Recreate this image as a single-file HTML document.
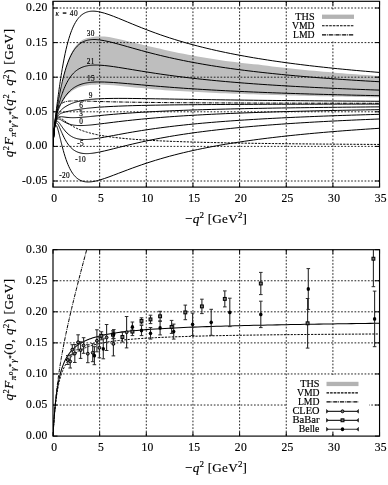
<!DOCTYPE html><html><head><meta charset="utf-8"><style>html,body{margin:0;padding:0;background:#fff}svg{display:block;will-change:transform}text{font-family:"Liberation Serif",serif;fill:#000;stroke:#000;stroke-width:0.16px}</style></head><body>
<svg width="388" height="485" viewBox="0 0 388 485">
<rect width="388" height="485" fill="#fff"/>
<defs><clipPath id="ct"><rect x="53.0" y="1.3" width="326.55" height="185.80"/></clipPath><clipPath id="cb"><rect x="53.0" y="249.7" width="326.55" height="186.40"/></clipPath></defs>
<g clip-path="url(#ct)">
<path d="M53.00,146.40 L53.23,142.02 L53.47,138.26 L53.70,134.99 L53.93,132.11 L54.17,129.53 L54.40,127.19 L54.63,125.03 L54.87,123.03 L55.10,121.16 L55.33,119.38 L55.57,117.67 L55.80,116.04 L56.03,114.46 L56.27,112.92 L56.50,111.42 L56.73,109.95 L56.97,108.51 L57.20,107.10 L57.43,105.71 L57.66,104.34 L57.90,102.99 L58.13,101.66 L58.36,100.34 L58.60,99.05 L58.83,97.77 L59.06,96.50 L59.30,95.26 L59.53,94.03 L59.76,92.81 L60.00,91.62 L60.23,90.44 L60.46,89.28 L60.70,88.13 L60.93,87.00 L61.16,85.89 L61.40,84.80 L61.63,83.72 L61.86,82.66 L62.10,81.62 L62.33,80.60 L63.26,76.67 L64.20,73.02 L65.13,69.63 L66.06,66.50 L67.00,63.61 L67.93,60.95 L68.86,58.51 L69.79,56.27 L70.73,54.23 L71.66,52.35 L72.59,50.65 L73.53,49.09 L74.46,47.68 L75.39,46.40 L76.33,45.24 L77.26,44.19 L78.19,43.24 L79.12,42.39 L80.06,41.63 L80.99,40.95 L81.92,40.34 L82.86,39.81 L83.79,39.34 L84.72,38.92 L85.66,38.56 L86.59,38.26 L87.52,38.00 L88.45,37.78 L89.39,37.60 L90.32,37.46 L91.25,37.24 L92.19,37.05 L93.12,36.89 L94.05,36.76 L94.98,36.65 L95.92,36.56 L96.85,36.50 L97.78,36.46 L98.72,36.44 L99.65,36.43 L104.31,36.62 L108.98,37.08 L113.65,37.97 L118.31,38.98 L122.97,40.06 L127.64,41.17 L132.31,42.30 L136.97,43.44 L141.63,44.56 L146.30,45.66 L150.97,46.74 L155.63,47.79 L160.30,48.81 L164.96,49.89 L169.62,50.93 L174.29,51.94 L178.95,52.91 L183.62,53.84 L188.28,54.74 L192.95,55.62 L197.62,56.45 L202.28,57.26 L206.94,58.04 L211.61,58.80 L216.28,59.52 L220.94,60.23 L225.60,60.90 L230.27,61.56 L234.94,62.11 L239.60,62.64 L244.27,63.15 L248.93,63.65 L253.59,64.13 L258.26,64.59 L262.93,65.21 L267.59,65.80 L272.25,66.38 L276.92,66.94 L281.59,67.48 L286.25,68.01 L290.91,68.52 L295.58,69.02 L300.25,69.50 L304.91,69.97 L309.57,70.42 L314.24,70.86 L318.91,71.29 L323.57,71.71 L328.24,72.12 L332.90,72.52 L337.56,72.90 L342.23,73.28 L346.89,73.65 L351.56,74.01 L356.23,74.36 L360.89,74.70 L365.56,75.03 L370.22,75.35 L374.88,75.67 L379.55,75.98 L379.55,97.29 L374.88,97.21 L370.22,97.13 L365.56,97.05 L360.89,96.97 L356.23,96.89 L351.56,96.80 L346.89,96.71 L342.23,96.62 L337.56,96.53 L332.90,96.44 L328.24,96.34 L323.57,96.24 L318.91,96.13 L314.24,96.03 L309.57,95.92 L304.91,95.81 L300.25,95.70 L295.58,95.58 L290.91,95.46 L286.25,95.33 L281.59,95.20 L276.92,95.07 L272.25,94.94 L267.59,94.80 L262.93,94.65 L258.26,94.50 L253.59,94.35 L248.93,94.19 L244.27,94.03 L239.60,93.86 L234.94,93.69 L230.27,93.51 L225.60,93.32 L220.94,93.13 L216.28,92.93 L211.61,92.73 L206.94,92.52 L202.28,92.30 L197.62,92.07 L192.95,91.84 L188.28,91.60 L183.62,91.35 L178.95,91.09 L174.29,90.83 L169.62,90.55 L164.96,90.27 L160.30,89.86 L155.63,89.44 L150.97,89.00 L146.30,88.55 L141.63,88.09 L136.97,87.63 L132.31,87.16 L127.64,86.68 L122.97,86.22 L118.31,85.76 L113.65,85.34 L108.98,84.95 L104.31,84.73 L99.65,84.62 L98.72,84.61 L97.78,84.62 L96.85,84.62 L95.92,84.64 L94.98,84.66 L94.05,84.70 L93.12,84.74 L92.19,84.80 L91.25,84.86 L90.32,84.94 L89.39,85.03 L88.45,85.13 L87.52,85.25 L86.59,85.39 L85.66,85.54 L84.72,85.72 L83.79,85.91 L82.86,86.13 L81.92,86.37 L80.99,86.63 L80.06,86.93 L79.12,87.25 L78.19,87.61 L77.26,88.00 L76.33,88.43 L75.39,88.90 L74.46,89.41 L73.53,89.97 L72.59,90.59 L71.66,91.25 L70.73,91.98 L69.79,92.77 L68.86,93.63 L67.93,94.56 L67.00,95.58 L66.06,96.67 L65.13,97.86 L64.20,99.15 L63.26,100.55 L62.33,102.06 L62.10,102.46 L61.86,102.87 L61.63,103.28 L61.40,103.71 L61.16,104.14 L60.93,104.58 L60.70,105.04 L60.46,105.50 L60.23,105.98 L60.00,106.46 L59.76,106.96 L59.53,107.48 L59.30,108.00 L59.06,108.54 L58.83,109.10 L58.60,109.68 L58.36,110.27 L58.13,110.89 L57.90,111.53 L57.66,112.20 L57.43,112.89 L57.20,113.62 L56.97,114.39 L56.73,115.20 L56.50,116.06 L56.27,116.97 L56.03,117.95 L55.80,119.00 L55.57,120.14 L55.33,121.38 L55.10,122.75 L54.87,124.25 L54.63,125.93 L54.40,127.80 L54.17,129.92 L53.93,132.34 L53.70,135.10 L53.47,138.30 L53.23,142.02 L53.00,146.40 Z" fill="#bebebe"/>
<line x1="99.65" y1="1.3" x2="99.65" y2="187.1" stroke="#1a1a1a" stroke-width="0.95" stroke-dasharray="1.7 1.65"/>
<line x1="146.30" y1="1.3" x2="146.30" y2="187.1" stroke="#1a1a1a" stroke-width="0.95" stroke-dasharray="1.7 1.65"/>
<line x1="192.95" y1="1.3" x2="192.95" y2="187.1" stroke="#1a1a1a" stroke-width="0.95" stroke-dasharray="1.7 1.65"/>
<line x1="239.60" y1="1.3" x2="239.60" y2="187.1" stroke="#1a1a1a" stroke-width="0.95" stroke-dasharray="1.7 1.65"/>
<line x1="286.25" y1="1.3" x2="286.25" y2="187.1" stroke="#1a1a1a" stroke-width="0.95" stroke-dasharray="1.7 1.65"/>
<line x1="332.90" y1="1.3" x2="332.90" y2="187.1" stroke="#1a1a1a" stroke-width="0.95" stroke-dasharray="1.7 1.65"/>
<line x1="53.0" y1="181.00" x2="379.55" y2="181.00" stroke="#1a1a1a" stroke-width="0.95" stroke-dasharray="1.7 1.65"/>
<line x1="53.0" y1="146.40" x2="379.55" y2="146.40" stroke="#1a1a1a" stroke-width="0.95" stroke-dasharray="1.7 1.65"/>
<line x1="53.0" y1="111.80" x2="379.55" y2="111.80" stroke="#1a1a1a" stroke-width="0.95" stroke-dasharray="1.7 1.65"/>
<line x1="53.0" y1="77.20" x2="379.55" y2="77.20" stroke="#1a1a1a" stroke-width="0.95" stroke-dasharray="1.7 1.65"/>
<line x1="53.0" y1="42.60" x2="379.55" y2="42.60" stroke="#1a1a1a" stroke-width="0.95" stroke-dasharray="1.7 1.65"/>
<line x1="53.0" y1="8.00" x2="379.55" y2="8.00" stroke="#1a1a1a" stroke-width="0.95" stroke-dasharray="1.7 1.65"/>
<path d="M53.00,146.40 L53.23,142.02 L53.47,138.24 L53.70,134.93 L53.93,131.98 L54.17,129.30 L54.40,126.83 L54.63,124.52 L54.87,122.33 L55.10,120.24 L55.33,118.22 L55.57,116.26 L55.80,114.34 L56.03,112.45 L56.27,110.59 L56.50,108.76 L56.73,106.94 L56.97,105.14 L57.20,103.36 L57.43,101.59 L57.66,99.83 L57.90,98.09 L58.13,96.37 L58.36,94.65 L58.60,92.96 L58.83,91.28 L59.06,89.61 L59.30,87.96 L59.53,86.33 L59.76,84.72 L60.00,83.13 L60.23,81.56 L60.46,80.01 L60.70,78.47 L60.93,76.96 L61.16,75.47 L61.40,74.01 L61.63,72.56 L61.86,71.14 L62.10,69.74 L62.33,68.36 L63.26,63.07 L64.20,58.15 L65.13,53.59 L66.06,49.38 L67.00,45.49 L67.93,41.92 L68.86,38.65 L69.79,35.66 L70.73,32.92 L71.66,30.43 L72.59,28.16 L73.53,26.10 L74.46,24.24 L75.39,22.55 L76.33,21.03 L77.26,19.66 L78.19,18.44 L79.12,17.34 L80.06,16.36 L80.99,15.49 L81.92,14.73 L82.86,14.05 L83.79,13.47 L84.72,12.97 L85.66,12.54 L86.59,12.17 L87.52,11.87 L88.45,11.63 L89.39,11.44 L90.32,11.30 L91.25,11.21 L92.19,11.16 L93.12,11.15 L94.05,11.17 L94.98,11.23 L95.92,11.31 L96.85,11.43 L97.78,11.56 L98.72,11.73 L99.65,11.91 L104.31,13.11 L108.98,14.63 L113.65,16.36 L118.31,18.22 L122.97,20.13 L127.64,22.07 L132.31,24.01 L136.97,25.91 L141.63,27.78 L146.30,29.61 L150.97,31.38 L155.63,33.09 L160.30,34.75 L164.96,36.35 L169.62,37.89 L174.29,39.37 L178.95,40.80 L183.62,42.18 L188.28,43.51 L192.95,44.78 L197.62,46.01 L202.28,47.20 L206.94,48.34 L211.61,49.44 L216.28,50.50 L220.94,51.52 L225.60,52.50 L230.27,53.46 L234.94,54.38 L239.60,55.26 L244.27,56.12 L248.93,56.95 L253.59,57.75 L258.26,58.53 L262.93,59.28 L267.59,60.01 L272.25,60.72 L276.92,61.40 L281.59,62.06 L286.25,62.71 L290.91,63.33 L295.58,63.94 L300.25,64.53 L304.91,65.10 L309.57,65.66 L314.24,66.20 L318.91,66.72 L323.57,67.23 L328.24,67.73 L332.90,68.22 L337.56,68.69 L342.23,69.15 L346.89,69.60 L351.56,70.04 L356.23,70.46 L360.89,70.88 L365.56,71.28 L370.22,71.68 L374.88,72.07 L379.55,72.44" fill="none" stroke="#000" stroke-width="1.0"/>
<path d="M53.00,146.40 L53.23,142.02 L53.47,138.26 L53.70,135.00 L53.93,132.12 L54.17,129.54 L54.40,127.21 L54.63,125.07 L54.87,123.08 L55.10,121.21 L55.33,119.45 L55.57,117.77 L55.80,116.15 L56.03,114.59 L56.27,113.07 L56.50,111.60 L56.73,110.15 L56.97,108.74 L57.20,107.35 L57.43,105.98 L57.66,104.64 L57.90,103.32 L58.13,102.01 L58.36,100.72 L58.60,99.46 L58.83,98.20 L59.06,96.97 L59.30,95.75 L59.53,94.55 L59.76,93.36 L60.00,92.20 L60.23,91.04 L60.46,89.91 L60.70,88.79 L60.93,87.69 L61.16,86.61 L61.40,85.54 L61.63,84.49 L61.86,83.46 L62.10,82.45 L62.33,81.45 L63.26,77.62 L64.20,74.07 L65.13,70.77 L66.06,67.73 L67.00,64.92 L67.93,62.34 L68.86,59.97 L69.79,57.80 L70.73,55.82 L71.66,54.00 L72.59,52.35 L73.53,50.85 L74.46,49.49 L75.39,48.25 L76.33,47.13 L77.26,46.12 L78.19,45.21 L79.12,44.39 L80.06,43.66 L80.99,43.01 L81.92,42.44 L82.86,41.93 L83.79,41.48 L84.72,41.09 L85.66,40.75 L86.59,40.46 L87.52,40.22 L88.45,40.02 L89.39,39.86 L90.32,39.73 L91.25,39.64 L92.19,39.58 L93.12,39.55 L94.05,39.54 L94.98,39.55 L95.92,39.59 L96.85,39.65 L97.78,39.73 L98.72,39.82 L99.65,39.93 L104.31,40.68 L108.98,41.68 L113.65,42.83 L118.31,44.08 L122.97,45.38 L127.64,46.70 L132.31,48.03 L136.97,49.34 L141.63,50.62 L146.30,51.88 L150.97,53.10 L155.63,54.29 L160.30,55.43 L164.96,56.54 L169.62,57.61 L174.29,58.64 L178.95,59.64 L183.62,60.59 L188.28,61.52 L192.95,62.41 L197.62,63.26 L202.28,64.09 L206.94,64.88 L211.61,65.65 L216.28,66.39 L220.94,67.10 L225.60,67.79 L230.27,68.46 L234.94,69.10 L239.60,69.72 L244.27,70.32 L248.93,70.90 L253.59,71.46 L258.26,72.00 L262.93,72.53 L267.59,73.04 L272.25,73.53 L276.92,74.01 L281.59,74.48 L286.25,74.93 L290.91,75.36 L295.58,75.79 L300.25,76.20 L304.91,76.60 L309.57,76.99 L314.24,77.37 L318.91,77.74 L323.57,78.10 L328.24,78.45 L332.90,78.79 L337.56,79.12 L342.23,79.44 L346.89,79.75 L351.56,80.06 L356.23,80.36 L360.89,80.65 L365.56,80.94 L370.22,81.21 L374.88,81.48 L379.55,81.75" fill="none" stroke="#000" stroke-width="1.0"/>
<path d="M53.00,146.40 L53.23,142.02 L53.47,138.28 L53.70,135.06 L53.93,132.24 L54.17,129.76 L54.40,127.55 L54.63,125.56 L54.87,123.75 L55.10,122.09 L55.33,120.56 L55.57,119.13 L55.80,117.78 L56.03,116.51 L56.27,115.30 L56.50,114.15 L56.73,113.04 L56.97,111.97 L57.20,110.94 L57.43,109.94 L57.66,108.97 L57.90,108.02 L58.13,107.09 L58.36,106.19 L58.60,105.30 L58.83,104.44 L59.06,103.59 L59.30,102.76 L59.53,101.94 L59.76,101.14 L60.00,100.36 L60.23,99.58 L60.46,98.83 L60.70,98.08 L60.93,97.35 L61.16,96.63 L61.40,95.93 L61.63,95.23 L61.86,94.55 L62.10,93.88 L62.33,93.23 L63.26,90.72 L64.20,88.39 L65.13,86.24 L66.06,84.25 L67.00,82.41 L67.93,80.72 L68.86,79.16 L69.79,77.73 L70.73,76.42 L71.66,75.22 L72.59,74.12 L73.53,73.12 L74.46,72.21 L75.39,71.37 L76.33,70.62 L77.26,69.93 L78.19,69.31 L79.12,68.74 L80.06,68.24 L80.99,67.78 L81.92,67.37 L82.86,67.01 L83.79,66.68 L84.72,66.40 L85.66,66.15 L86.59,65.93 L87.52,65.74 L88.45,65.57 L89.39,65.44 L90.32,65.32 L91.25,65.23 L92.19,65.16 L93.12,65.10 L94.05,65.07 L94.98,65.05 L95.92,65.04 L96.85,65.05 L97.78,65.07 L98.72,65.10 L99.65,65.15 L104.31,65.50 L108.98,66.02 L113.65,66.65 L118.31,67.36 L122.97,68.10 L127.64,68.87 L132.31,69.64 L136.97,70.41 L141.63,71.18 L146.30,71.92 L150.97,72.65 L155.63,73.36 L160.30,74.05 L164.96,74.72 L169.62,75.36 L174.29,75.99 L178.95,76.59 L183.62,77.17 L188.28,77.73 L192.95,78.27 L197.62,78.79 L202.28,79.29 L206.94,79.78 L211.61,80.24 L216.28,80.69 L220.94,81.13 L225.60,81.55 L230.27,81.96 L234.94,82.35 L239.60,82.73 L244.27,83.10 L248.93,83.45 L253.59,83.80 L258.26,84.13 L262.93,84.45 L267.59,84.76 L272.25,85.07 L276.92,85.36 L281.59,85.65 L286.25,85.92 L290.91,86.19 L295.58,86.45 L300.25,86.71 L304.91,86.95 L309.57,87.19 L314.24,87.43 L318.91,87.65 L323.57,87.87 L328.24,88.09 L332.90,88.30 L337.56,88.50 L342.23,88.70 L346.89,88.89 L351.56,89.08 L356.23,89.27 L360.89,89.45 L365.56,89.62 L370.22,89.79 L374.88,89.96 L379.55,90.12" fill="none" stroke="#000" stroke-width="1.0"/>
<path d="M53.00,146.40 L53.23,142.02 L53.47,138.30 L53.70,135.10 L53.93,132.33 L54.17,129.91 L54.40,127.78 L54.63,125.89 L54.87,124.20 L55.10,122.68 L55.33,121.30 L55.57,120.03 L55.80,118.87 L56.03,117.79 L56.27,116.79 L56.50,115.85 L56.73,114.97 L56.97,114.13 L57.20,113.33 L57.43,112.58 L57.66,111.85 L57.90,111.15 L58.13,110.48 L58.36,109.83 L58.60,109.20 L58.83,108.59 L59.06,108.00 L59.30,107.43 L59.53,106.87 L59.76,106.33 L60.00,105.79 L60.23,105.28 L60.46,104.77 L60.70,104.27 L60.93,103.79 L61.16,103.31 L61.40,102.85 L61.63,102.39 L61.86,101.95 L62.10,101.51 L62.33,101.08 L63.26,99.45 L64.20,97.94 L65.13,96.55 L66.06,95.26 L67.00,94.07 L67.93,92.97 L68.86,91.96 L69.79,91.02 L70.73,90.16 L71.66,89.37 L72.59,88.64 L73.53,87.97 L74.46,87.35 L75.39,86.79 L76.33,86.28 L77.26,85.80 L78.19,85.37 L79.12,84.98 L80.06,84.62 L80.99,84.29 L81.92,84.00 L82.86,83.73 L83.79,83.49 L84.72,83.27 L85.66,83.08 L86.59,82.90 L87.52,82.74 L88.45,82.61 L89.39,82.49 L90.32,82.38 L91.25,82.29 L92.19,82.21 L93.12,82.14 L94.05,82.09 L94.98,82.04 L95.92,82.01 L96.85,81.98 L97.78,81.97 L98.72,81.96 L99.65,81.96 L104.31,82.04 L108.98,82.25 L113.65,82.53 L118.31,82.87 L122.97,83.25 L127.64,83.65 L132.31,84.05 L136.97,84.47 L141.63,84.88 L146.30,85.29 L150.97,85.69 L155.63,86.08 L160.30,86.46 L164.96,86.84 L169.62,87.20 L174.29,87.55 L178.95,87.89 L183.62,88.22 L188.28,88.54 L192.95,88.84 L197.62,89.14 L202.28,89.43 L206.94,89.70 L211.61,89.97 L216.28,90.23 L220.94,90.48 L225.60,90.72 L230.27,90.96 L234.94,91.18 L239.60,91.40 L244.27,91.62 L248.93,91.82 L253.59,92.02 L258.26,92.21 L262.93,92.40 L267.59,92.58 L272.25,92.76 L276.92,92.93 L281.59,93.09 L286.25,93.25 L290.91,93.41 L295.58,93.56 L300.25,93.71 L304.91,93.85 L309.57,93.99 L314.24,94.13 L318.91,94.26 L323.57,94.39 L328.24,94.52 L332.90,94.64 L337.56,94.76 L342.23,94.87 L346.89,94.99 L351.56,95.10 L356.23,95.21 L360.89,95.31 L365.56,95.41 L370.22,95.51 L374.88,95.61 L379.55,95.71" fill="none" stroke="#000" stroke-width="1.0"/>
<path d="M53.00,146.40 L53.23,142.03 L53.47,138.31 L53.70,135.14 L53.93,132.41 L54.17,130.05 L54.40,128.00 L54.63,126.22 L54.87,124.65 L55.10,123.26 L55.33,122.03 L55.57,120.94 L55.80,119.96 L56.03,119.08 L56.27,118.28 L56.50,117.55 L56.73,116.89 L56.97,116.29 L57.20,115.73 L57.43,115.21 L57.66,114.73 L57.90,114.28 L58.13,113.87 L58.36,113.47 L58.60,113.10 L58.83,112.75 L59.06,112.42 L59.30,112.10 L59.53,111.80 L59.76,111.51 L60.00,111.23 L60.23,110.97 L60.46,110.71 L60.70,110.46 L60.93,110.23 L61.16,109.99 L61.40,109.77 L61.63,109.55 L61.86,109.34 L62.10,109.14 L62.33,108.94 L63.26,108.18 L64.20,107.49 L65.13,106.86 L66.06,106.27 L67.00,105.73 L67.93,105.22 L68.86,104.75 L69.79,104.31 L70.73,103.90 L71.66,103.51 L72.59,103.15 L73.53,102.82 L74.46,102.50 L75.39,102.21 L76.33,101.93 L77.26,101.68 L78.19,101.44 L79.12,101.21 L80.06,101.00 L80.99,100.81 L81.92,100.62 L82.86,100.45 L83.79,100.29 L84.72,100.14 L85.66,100.00 L86.59,99.88 L87.52,99.75 L88.45,99.64 L89.39,99.54 L90.32,99.44 L91.25,99.35 L92.19,99.26 L93.12,99.18 L94.05,99.11 L94.98,99.04 L95.92,98.98 L96.85,98.92 L97.78,98.87 L98.72,98.82 L99.65,98.77 L104.31,98.59 L108.98,98.48 L113.65,98.42 L118.31,98.39 L122.97,98.40 L127.64,98.42 L132.31,98.47 L136.97,98.52 L141.63,98.58 L146.30,98.65 L150.97,98.72 L155.63,98.80 L160.30,98.88 L164.96,98.95 L169.62,99.03 L174.29,99.11 L178.95,99.19 L183.62,99.27 L188.28,99.34 L192.95,99.42 L197.62,99.49 L202.28,99.56 L206.94,99.63 L211.61,99.70 L216.28,99.77 L220.94,99.83 L225.60,99.90 L230.27,99.96 L234.94,100.02 L239.60,100.08 L244.27,100.13 L248.93,100.19 L253.59,100.24 L258.26,100.30 L262.93,100.35 L267.59,100.40 L272.25,100.45 L276.92,100.49 L281.59,100.54 L286.25,100.59 L290.91,100.63 L295.58,100.67 L300.25,100.71 L304.91,100.76 L309.57,100.79 L314.24,100.83 L318.91,100.87 L323.57,100.91 L328.24,100.94 L332.90,100.98 L337.56,101.01 L342.23,101.05 L346.89,101.08 L351.56,101.11 L356.23,101.14 L360.89,101.17 L365.56,101.20 L370.22,101.23 L374.88,101.26 L379.55,101.29" fill="none" stroke="#000" stroke-width="1.0"/>
<path d="M53.00,146.40 L53.23,142.03 L53.47,138.32 L53.70,135.16 L53.93,132.45 L54.17,130.12 L54.40,128.12 L54.63,126.38 L54.87,124.87 L55.10,123.55 L55.33,122.40 L55.57,121.39 L55.80,120.50 L56.03,119.72 L56.27,119.02 L56.50,118.41 L56.73,117.86 L56.97,117.36 L57.20,116.93 L57.43,116.53 L57.66,116.17 L57.90,115.85 L58.13,115.56 L58.36,115.29 L58.60,115.05 L58.83,114.83 L59.06,114.63 L59.30,114.44 L59.53,114.26 L59.76,114.10 L60.00,113.95 L60.23,113.81 L60.46,113.68 L60.70,113.56 L60.93,113.44 L61.16,113.34 L61.40,113.23 L61.63,113.13 L61.86,113.04 L62.10,112.95 L62.33,112.86 L63.26,112.55 L64.20,112.27 L65.13,112.02 L66.06,111.78 L67.00,111.56 L67.93,111.35 L68.86,111.15 L69.79,110.95 L70.73,110.77 L71.66,110.59 L72.59,110.41 L73.53,110.24 L74.46,110.08 L75.39,109.92 L76.33,109.76 L77.26,109.61 L78.19,109.47 L79.12,109.33 L80.06,109.19 L80.99,109.06 L81.92,108.94 L82.86,108.81 L83.79,108.70 L84.72,108.58 L85.66,108.47 L86.59,108.36 L87.52,108.26 L88.45,108.16 L89.39,108.06 L90.32,107.97 L91.25,107.88 L92.19,107.79 L93.12,107.70 L94.05,107.62 L94.98,107.54 L95.92,107.46 L96.85,107.39 L97.78,107.31 L98.72,107.24 L99.65,107.17 L104.31,106.86 L108.98,106.59 L113.65,106.36 L118.31,106.15 L122.97,105.97 L127.64,105.81 L132.31,105.67 L136.97,105.54 L141.63,105.43 L146.30,105.33 L150.97,105.24 L155.63,105.16 L160.30,105.08 L164.96,105.01 L169.62,104.95 L174.29,104.89 L178.95,104.84 L183.62,104.79 L188.28,104.75 L192.95,104.70 L197.62,104.67 L202.28,104.63 L206.94,104.60 L211.61,104.56 L216.28,104.54 L220.94,104.51 L225.60,104.48 L230.27,104.46 L234.94,104.43 L239.60,104.41 L244.27,104.39 L248.93,104.37 L253.59,104.36 L258.26,104.34 L262.93,104.32 L267.59,104.31 L272.25,104.29 L276.92,104.28 L281.59,104.26 L286.25,104.25 L290.91,104.24 L295.58,104.23 L300.25,104.22 L304.91,104.21 L309.57,104.20 L314.24,104.19 L318.91,104.18 L323.57,104.17 L328.24,104.16 L332.90,104.15 L337.56,104.14 L342.23,104.13 L346.89,104.13 L351.56,104.12 L356.23,104.11 L360.89,104.11 L365.56,104.10 L370.22,104.09 L374.88,104.09 L379.55,104.08" fill="none" stroke="#000" stroke-width="1.0"/>
<path d="M53.00,146.40 L53.23,142.03 L53.47,138.33 L53.70,135.18 L53.93,132.49 L54.17,130.20 L54.40,128.23 L54.63,126.54 L54.87,125.09 L55.10,123.85 L55.33,122.77 L55.57,121.85 L55.80,121.05 L56.03,120.36 L56.27,119.77 L56.50,119.26 L56.73,118.82 L56.97,118.44 L57.20,118.12 L57.43,117.85 L57.66,117.62 L57.90,117.42 L58.13,117.25 L58.36,117.12 L58.60,117.00 L58.83,116.91 L59.06,116.83 L59.30,116.77 L59.53,116.73 L59.76,116.70 L60.00,116.67 L60.23,116.66 L60.46,116.66 L60.70,116.66 L60.93,116.66 L61.16,116.68 L61.40,116.69 L61.63,116.71 L61.86,116.74 L62.10,116.76 L62.33,116.79 L63.26,116.91 L64.20,117.04 L65.13,117.17 L66.06,117.29 L67.00,117.39 L67.93,117.48 L68.86,117.54 L69.79,117.60 L70.73,117.63 L71.66,117.66 L72.59,117.67 L73.53,117.66 L74.46,117.65 L75.39,117.63 L76.33,117.59 L77.26,117.55 L78.19,117.50 L79.12,117.45 L80.06,117.39 L80.99,117.32 L81.92,117.25 L82.86,117.17 L83.79,117.10 L84.72,117.02 L85.66,116.93 L86.59,116.85 L87.52,116.76 L88.45,116.68 L89.39,116.59 L90.32,116.50 L91.25,116.40 L92.19,116.31 L93.12,116.22 L94.05,116.13 L94.98,116.04 L95.92,115.95 L96.85,115.85 L97.78,115.76 L98.72,115.67 L99.65,115.58 L104.31,115.13 L108.98,114.70 L113.65,114.30 L118.31,113.91 L122.97,113.54 L127.64,113.20 L132.31,112.88 L136.97,112.57 L141.63,112.28 L146.30,112.01 L150.97,111.76 L155.63,111.52 L160.30,111.29 L164.96,111.07 L169.62,110.87 L174.29,110.67 L178.95,110.49 L183.62,110.32 L188.28,110.15 L192.95,109.99 L197.62,109.84 L202.28,109.70 L206.94,109.56 L211.61,109.43 L216.28,109.30 L220.94,109.18 L225.60,109.07 L230.27,108.96 L234.94,108.85 L239.60,108.75 L244.27,108.65 L248.93,108.56 L253.59,108.47 L258.26,108.38 L262.93,108.30 L267.59,108.21 L272.25,108.14 L276.92,108.06 L281.59,107.99 L286.25,107.92 L290.91,107.85 L295.58,107.78 L300.25,107.72 L304.91,107.66 L309.57,107.60 L314.24,107.54 L318.91,107.48 L323.57,107.43 L328.24,107.37 L332.90,107.32 L337.56,107.27 L342.23,107.22 L346.89,107.17 L351.56,107.13 L356.23,107.08 L360.89,107.04 L365.56,107.00 L370.22,106.95 L374.88,106.91 L379.55,106.87" fill="none" stroke="#000" stroke-width="1.0"/>
<path d="M53.00,146.40 L53.23,142.03 L53.47,138.33 L53.70,135.20 L53.93,132.53 L54.17,130.27 L54.40,128.35 L54.63,126.71 L54.87,125.32 L55.10,124.14 L55.33,123.14 L55.57,122.30 L55.80,121.59 L56.03,121.00 L56.27,120.51 L56.50,120.11 L56.73,119.78 L56.97,119.52 L57.20,119.32 L57.43,119.17 L57.66,119.06 L57.90,118.99 L58.13,118.95 L58.36,118.94 L58.60,118.95 L58.83,118.99 L59.06,119.04 L59.30,119.11 L59.53,119.19 L59.76,119.29 L60.00,119.39 L60.23,119.51 L60.46,119.63 L60.70,119.75 L60.93,119.88 L61.16,120.02 L61.40,120.15 L61.63,120.29 L61.86,120.43 L62.10,120.57 L62.33,120.72 L63.26,121.28 L64.20,121.82 L65.13,122.33 L66.06,122.79 L67.00,123.22 L67.93,123.60 L68.86,123.94 L69.79,124.24 L70.73,124.50 L71.66,124.73 L72.59,124.92 L73.53,125.09 L74.46,125.22 L75.39,125.33 L76.33,125.42 L77.26,125.49 L78.19,125.53 L79.12,125.56 L80.06,125.58 L80.99,125.58 L81.92,125.56 L82.86,125.54 L83.79,125.50 L84.72,125.45 L85.66,125.40 L86.59,125.34 L87.52,125.27 L88.45,125.19 L89.39,125.11 L90.32,125.02 L91.25,124.93 L92.19,124.84 L93.12,124.74 L94.05,124.64 L94.98,124.54 L95.92,124.43 L96.85,124.32 L97.78,124.21 L98.72,124.10 L99.65,123.98 L104.31,123.41 L108.98,122.82 L113.65,122.24 L118.31,121.67 L122.97,121.12 L127.64,120.59 L132.31,120.08 L136.97,119.60 L141.63,119.14 L146.30,118.69 L150.97,118.27 L155.63,117.87 L160.30,117.49 L164.96,117.13 L169.62,116.79 L174.29,116.46 L178.95,116.14 L183.62,115.84 L188.28,115.55 L192.95,115.28 L197.62,115.02 L202.28,114.77 L206.94,114.52 L211.61,114.29 L216.28,114.07 L220.94,113.86 L225.60,113.65 L230.27,113.46 L234.94,113.27 L239.60,113.09 L244.27,112.91 L248.93,112.74 L253.59,112.58 L258.26,112.42 L262.93,112.27 L267.59,112.12 L272.25,111.98 L276.92,111.84 L281.59,111.71 L286.25,111.58 L290.91,111.46 L295.58,111.34 L300.25,111.22 L304.91,111.11 L309.57,111.00 L314.24,110.89 L318.91,110.79 L323.57,110.68 L328.24,110.59 L332.90,110.49 L337.56,110.40 L342.23,110.31 L346.89,110.22 L351.56,110.14 L356.23,110.05 L360.89,109.97 L365.56,109.89 L370.22,109.81 L374.88,109.74 L379.55,109.67" fill="none" stroke="#000" stroke-width="1.0"/>
<path d="M53.00,146.40 L53.23,142.03 L53.47,138.34 L53.70,135.23 L53.93,132.60 L54.17,130.39 L54.40,128.53 L54.63,126.98 L54.87,125.69 L55.10,124.63 L55.33,123.76 L55.57,123.05 L55.80,122.50 L56.03,122.07 L56.27,121.75 L56.50,121.53 L56.73,121.39 L56.97,121.32 L57.20,121.31 L57.43,121.36 L57.66,121.46 L57.90,121.60 L58.13,121.77 L58.36,121.97 L58.60,122.20 L58.83,122.45 L59.06,122.72 L59.30,123.00 L59.53,123.30 L59.76,123.61 L60.00,123.93 L60.23,124.25 L60.46,124.58 L60.70,124.91 L60.93,125.25 L61.16,125.59 L61.40,125.92 L61.63,126.26 L61.86,126.60 L62.10,126.93 L62.33,127.26 L63.26,128.55 L64.20,129.78 L65.13,130.92 L66.06,131.97 L67.00,132.93 L67.93,133.81 L68.86,134.60 L69.79,135.31 L70.73,135.95 L71.66,136.52 L72.59,137.02 L73.53,137.46 L74.46,137.85 L75.39,138.18 L76.33,138.47 L77.26,138.72 L78.19,138.92 L79.12,139.09 L80.06,139.23 L80.99,139.34 L81.92,139.42 L82.86,139.47 L83.79,139.50 L84.72,139.51 L85.66,139.51 L86.59,139.48 L87.52,139.44 L88.45,139.39 L89.39,139.32 L90.32,139.24 L91.25,139.15 L92.19,139.05 L93.12,138.94 L94.05,138.82 L94.98,138.70 L95.92,138.57 L96.85,138.43 L97.78,138.29 L98.72,138.14 L99.65,137.99 L104.31,137.19 L108.98,136.34 L113.65,135.47 L118.31,134.60 L122.97,133.74 L127.64,132.90 L132.31,132.09 L136.97,131.31 L141.63,130.55 L146.30,129.83 L150.97,129.14 L155.63,128.47 L160.30,127.84 L164.96,127.23 L169.62,126.65 L174.29,126.09 L178.95,125.56 L183.62,125.05 L188.28,124.56 L192.95,124.09 L197.62,123.64 L202.28,123.21 L206.94,122.80 L211.61,122.40 L216.28,122.02 L220.94,121.65 L225.60,121.30 L230.27,120.96 L234.94,120.63 L239.60,120.31 L244.27,120.01 L248.93,119.72 L253.59,119.43 L258.26,119.16 L262.93,118.89 L267.59,118.64 L272.25,118.39 L276.92,118.15 L281.59,117.92 L286.25,117.69 L290.91,117.47 L295.58,117.26 L300.25,117.06 L304.91,116.86 L309.57,116.66 L314.24,116.48 L318.91,116.29 L323.57,116.12 L328.24,115.94 L332.90,115.78 L337.56,115.61 L342.23,115.45 L346.89,115.30 L351.56,115.15 L356.23,115.00 L360.89,114.86 L365.56,114.72 L370.22,114.58 L374.88,114.45 L379.55,114.32" fill="none" stroke="#000" stroke-width="1.0"/>
<path d="M53.00,146.40 L53.23,142.03 L53.47,138.36 L53.70,135.26 L53.93,132.67 L54.17,130.51 L54.40,128.72 L54.63,127.26 L54.87,126.06 L55.10,125.11 L55.33,124.37 L55.57,123.81 L55.80,123.40 L56.03,123.14 L56.27,122.99 L56.50,122.95 L56.73,122.99 L56.97,123.12 L57.20,123.31 L57.43,123.56 L57.66,123.86 L57.90,124.21 L58.13,124.59 L58.36,125.01 L58.60,125.45 L58.83,125.91 L59.06,126.40 L59.30,126.90 L59.53,127.41 L59.76,127.93 L60.00,128.46 L60.23,128.99 L60.46,129.53 L60.70,130.07 L60.93,130.61 L61.16,131.15 L61.40,131.69 L61.63,132.23 L61.86,132.76 L62.10,133.28 L62.33,133.81 L63.26,135.83 L64.20,137.74 L65.13,139.51 L66.06,141.15 L67.00,142.65 L67.93,144.02 L68.86,145.26 L69.79,146.39 L70.73,147.40 L71.66,148.31 L72.59,149.11 L73.53,149.83 L74.46,150.47 L75.39,151.03 L76.33,151.52 L77.26,151.94 L78.19,152.31 L79.12,152.62 L80.06,152.88 L80.99,153.10 L81.92,153.27 L82.86,153.41 L83.79,153.51 L84.72,153.58 L85.66,153.62 L86.59,153.63 L87.52,153.62 L88.45,153.58 L89.39,153.53 L90.32,153.45 L91.25,153.36 L92.19,153.26 L93.12,153.14 L94.05,153.01 L94.98,152.86 L95.92,152.71 L96.85,152.54 L97.78,152.37 L98.72,152.19 L99.65,152.00 L104.31,150.98 L108.98,149.86 L113.65,148.70 L118.31,147.53 L122.97,146.36 L127.64,145.22 L132.31,144.10 L136.97,143.02 L141.63,141.97 L146.30,140.97 L150.97,140.00 L155.63,139.07 L160.30,138.18 L164.96,137.33 L169.62,136.51 L174.29,135.73 L178.95,134.98 L183.62,134.26 L188.28,133.57 L192.95,132.90 L197.62,132.27 L202.28,131.66 L206.94,131.07 L211.61,130.51 L216.28,129.97 L220.94,129.44 L225.60,128.94 L230.27,128.46 L234.94,127.99 L239.60,127.54 L244.27,127.11 L248.93,126.69 L253.59,126.29 L258.26,125.89 L262.93,125.52 L267.59,125.15 L272.25,124.80 L276.92,124.45 L281.59,124.12 L286.25,123.80 L290.91,123.49 L295.58,123.19 L300.25,122.89 L304.91,122.61 L309.57,122.33 L314.24,122.06 L318.91,121.80 L323.57,121.55 L328.24,121.30 L332.90,121.06 L337.56,120.83 L342.23,120.60 L346.89,120.38 L351.56,120.16 L356.23,119.95 L360.89,119.74 L365.56,119.54 L370.22,119.35 L374.88,119.16 L379.55,118.97" fill="none" stroke="#000" stroke-width="1.0"/>
<path d="M53.00,146.40 L53.23,142.04 L53.47,138.38 L53.70,135.33 L53.93,132.81 L54.17,130.76 L54.40,129.10 L54.63,127.80 L54.87,126.81 L55.10,126.09 L55.33,125.60 L55.57,125.32 L55.80,125.22 L56.03,125.27 L56.27,125.47 L56.50,125.78 L56.73,126.20 L56.97,126.71 L57.20,127.30 L57.43,127.95 L57.66,128.67 L57.90,129.43 L58.13,130.24 L58.36,131.08 L58.60,131.95 L58.83,132.84 L59.06,133.75 L59.30,134.68 L59.53,135.62 L59.76,136.57 L60.00,137.53 L60.23,138.48 L60.46,139.44 L60.70,140.39 L60.93,141.34 L61.16,142.29 L61.40,143.23 L61.63,144.16 L61.86,145.08 L62.10,145.99 L62.33,146.90 L63.26,150.38 L64.20,153.65 L65.13,156.69 L66.06,159.50 L67.00,162.08 L67.93,164.44 L68.86,166.59 L69.79,168.53 L70.73,170.29 L71.66,171.88 L72.59,173.30 L73.53,174.58 L74.46,175.72 L75.39,176.72 L76.33,177.62 L77.26,178.40 L78.19,179.08 L79.12,179.68 L80.06,180.19 L80.99,180.62 L81.92,180.98 L82.86,181.28 L83.79,181.51 L84.72,181.70 L85.66,181.83 L86.59,181.92 L87.52,181.97 L88.45,181.97 L89.39,181.95 L90.32,181.89 L91.25,181.80 L92.19,181.68 L93.12,181.54 L94.05,181.38 L94.98,181.19 L95.92,180.99 L96.85,180.77 L97.78,180.53 L98.72,180.28 L99.65,180.02 L104.31,178.55 L108.98,176.91 L113.65,175.17 L118.31,173.39 L122.97,171.61 L127.64,169.85 L132.31,168.12 L136.97,166.44 L141.63,164.81 L146.30,163.24 L150.97,161.72 L155.63,160.27 L160.30,158.87 L164.96,157.52 L169.62,156.23 L174.29,155.00 L178.95,153.81 L183.62,152.67 L188.28,151.58 L192.95,150.53 L197.62,149.52 L202.28,148.55 L206.94,147.62 L211.61,146.72 L216.28,145.86 L220.94,145.03 L225.60,144.23 L230.27,143.46 L234.94,142.72 L239.60,142.00 L244.27,141.31 L248.93,140.64 L253.59,139.99 L258.26,139.37 L262.93,138.76 L267.59,138.18 L272.25,137.61 L276.92,137.07 L281.59,136.53 L286.25,136.02 L290.91,135.52 L295.58,135.04 L300.25,134.57 L304.91,134.11 L309.57,133.67 L314.24,133.24 L318.91,132.82 L323.57,132.41 L328.24,132.01 L332.90,131.63 L337.56,131.25 L342.23,130.89 L346.89,130.53 L351.56,130.18 L356.23,129.85 L360.89,129.52 L365.56,129.20 L370.22,128.88 L374.88,128.58 L379.55,128.28" fill="none" stroke="#000" stroke-width="1.0"/>
<path d="M53.00,146.40 L53.23,142.02 L53.47,138.30 L53.70,135.12 L53.93,132.40 L54.17,130.07 L54.40,128.07 L54.63,126.36 L54.87,124.89 L55.10,123.62 L55.33,122.54 L55.57,121.62 L55.80,120.83 L56.03,120.16 L56.27,119.60 L56.50,119.12 L56.73,118.72 L56.97,118.40 L57.20,118.13 L57.43,117.92 L57.66,117.76 L57.90,117.64 L58.13,117.55 L58.36,117.50 L58.60,117.48 L58.83,117.48 L59.06,117.50 L59.30,117.55 L59.53,117.61 L59.76,117.69 L60.00,117.78 L60.23,117.88 L60.46,118.00 L60.70,118.12 L60.93,118.26 L61.16,118.40 L61.40,118.54 L61.63,118.69 L61.86,118.85 L62.10,119.01 L62.33,119.17 L63.26,119.85 L64.20,120.55 L65.13,121.25 L66.06,121.94 L67.00,122.62 L67.93,123.28 L68.86,123.91 L69.79,124.53 L70.73,125.11 L71.66,125.68 L72.59,126.22 L73.53,126.74 L74.46,127.23 L75.39,127.70 L76.33,128.16 L77.26,128.59 L78.19,129.01 L79.12,129.41 L80.06,129.79 L80.99,130.15 L81.92,130.50 L82.86,130.84 L83.79,131.17 L84.72,131.48 L85.66,131.78 L86.59,132.06 L87.52,132.34 L88.45,132.61 L89.39,132.87 L90.32,133.12 L91.25,133.36 L92.19,133.59 L93.12,133.81 L94.05,134.03 L94.98,134.24 L95.92,134.44 L96.85,134.64 L97.78,134.83 L98.72,135.01 L99.65,135.19 L104.31,136.00 L108.98,136.71 L113.65,137.33 L118.31,137.87 L122.97,138.35 L127.64,138.78 L132.31,139.17 L136.97,139.52 L141.63,139.84 L146.30,140.13 L150.97,140.40 L155.63,140.64 L160.30,140.87 L164.96,141.07 L169.62,141.27 L174.29,141.45 L178.95,141.61 L183.62,141.77 L188.28,141.92 L192.95,142.06 L197.62,142.18 L202.28,142.31 L206.94,142.42 L211.61,142.53 L216.28,142.63 L220.94,142.73 L225.60,142.82 L230.27,142.91 L234.94,143.00 L239.60,143.08 L244.27,143.15 L248.93,143.23 L253.59,143.30 L258.26,143.36 L262.93,143.43 L267.59,143.49 L272.25,143.55 L276.92,143.60 L281.59,143.66 L286.25,143.71 L290.91,143.76 L295.58,143.81 L300.25,143.86 L304.91,143.90 L309.57,143.94 L314.24,143.99 L318.91,144.03 L323.57,144.07 L328.24,144.10 L332.90,144.14 L337.56,144.18 L342.23,144.21 L346.89,144.24 L351.56,144.28 L356.23,144.31 L360.89,144.34 L365.56,144.37 L370.22,144.40 L374.88,144.42 L379.55,144.45" fill="none" stroke="#000" stroke-width="1.0" stroke-dasharray="2.2 1.2"/>
<path d="M53.00,146.40 L53.23,141.96 L53.47,138.06 L53.70,134.63 L53.93,131.59 L54.17,128.89 L54.40,126.48 L54.63,124.32 L54.87,122.39 L55.10,120.65 L55.33,119.07 L55.57,117.65 L55.80,116.36 L56.03,115.19 L56.27,114.12 L56.50,113.14 L56.73,112.25 L56.97,111.43 L57.20,110.68 L57.43,109.99 L57.66,109.36 L57.90,108.77 L58.13,108.23 L58.36,107.73 L58.60,107.27 L58.83,106.84 L59.06,106.44 L59.30,106.08 L59.53,105.73 L59.76,105.42 L60.00,105.12 L60.23,104.84 L60.46,104.59 L60.70,104.35 L60.93,104.12 L61.16,103.91 L61.40,103.72 L61.63,103.53 L61.86,103.36 L62.10,103.20 L62.33,103.05 L63.26,102.54 L64.20,102.14 L65.13,101.83 L66.06,101.59 L67.00,101.40 L67.93,101.26 L68.86,101.14 L69.79,101.06 L70.73,101.00 L71.66,100.95 L72.59,100.92 L73.53,100.90 L74.46,100.89 L75.39,100.89 L76.33,100.89 L77.26,100.90 L78.19,100.91 L79.12,100.93 L80.06,100.95 L80.99,100.97 L81.92,101.00 L82.86,101.02 L83.79,101.05 L84.72,101.07 L85.66,101.10 L86.59,101.13 L87.52,101.16 L88.45,101.19 L89.39,101.21 L90.32,101.24 L91.25,101.27 L92.19,101.30 L93.12,101.33 L94.05,101.36 L94.98,101.38 L95.92,101.41 L96.85,101.44 L97.78,101.46 L98.72,101.49 L99.65,101.52 L104.31,101.64 L108.98,101.75 L113.65,101.86 L118.31,101.95 L122.97,102.04 L127.64,102.12 L132.31,102.19 L136.97,102.26 L141.63,102.32 L146.30,102.38 L150.97,102.43 L155.63,102.48 L160.30,102.52 L164.96,102.57 L169.62,102.61 L174.29,102.65 L178.95,102.68 L183.62,102.71 L188.28,102.74 L192.95,102.77 L197.62,102.80 L202.28,102.83 L206.94,102.85 L211.61,102.88 L216.28,102.90 L220.94,102.92 L225.60,102.94 L230.27,102.96 L234.94,102.98 L239.60,103.00 L244.27,103.01 L248.93,103.03 L253.59,103.05 L258.26,103.06 L262.93,103.08 L267.59,103.09 L272.25,103.10 L276.92,103.11 L281.59,103.13 L286.25,103.14 L290.91,103.15 L295.58,103.16 L300.25,103.17 L304.91,103.18 L309.57,103.19 L314.24,103.20 L318.91,103.21 L323.57,103.22 L328.24,103.23 L332.90,103.24 L337.56,103.25 L342.23,103.25 L346.89,103.26 L351.56,103.27 L356.23,103.28 L360.89,103.28 L365.56,103.29 L370.22,103.30 L374.88,103.30 L379.55,103.31" fill="none" stroke="#000" stroke-width="1.0" stroke-dasharray="3.8 0.9 0.8 0.9"/>
</g>
<rect x="287" y="9.6" width="86" height="31.2" fill="#fff"/>
<text x="295.30" y="20.00" font-size="9.4" textLength="19.3" lengthAdjust="spacingAndGlyphs">THS</text>
<rect x="322" y="14.60" width="32" height="4.3" fill="#b3b3b3"/>
<text x="292.00" y="29.10" font-size="9.4" textLength="22.6" lengthAdjust="spacingAndGlyphs">VMD</text>
<line x1="322" y1="25.80" x2="354" y2="25.80" stroke="#000" stroke-width="1.1" stroke-dasharray="2.6 1"/>
<text x="293.00" y="38.20" font-size="9.4" textLength="21.6" lengthAdjust="spacingAndGlyphs">LMD</text>
<line x1="322" y1="34.90" x2="354" y2="34.90" stroke="#000" stroke-width="1.1" stroke-dasharray="4.2 0.8 0.8 0.9"/>
<rect x="53.0" y="1.3" width="326.55" height="185.80" fill="none" stroke="#000" stroke-width="1.15"/>
<line x1="53.00" y1="187.1" x2="53.00" y2="183.1" stroke="#000" stroke-width="1"/>
<line x1="53.00" y1="1.3" x2="53.00" y2="5.3" stroke="#000" stroke-width="1"/>
<text x="54.30" y="201.9" font-size="11.6" text-anchor="middle" letter-spacing="0.3">0</text>
<line x1="99.65" y1="187.1" x2="99.65" y2="183.1" stroke="#000" stroke-width="1"/>
<line x1="99.65" y1="1.3" x2="99.65" y2="5.3" stroke="#000" stroke-width="1"/>
<text x="100.95" y="201.9" font-size="11.6" text-anchor="middle" letter-spacing="0.3">5</text>
<line x1="146.30" y1="187.1" x2="146.30" y2="183.1" stroke="#000" stroke-width="1"/>
<line x1="146.30" y1="1.3" x2="146.30" y2="5.3" stroke="#000" stroke-width="1"/>
<text x="147.60" y="201.9" font-size="11.6" text-anchor="middle" letter-spacing="0.3">10</text>
<line x1="192.95" y1="187.1" x2="192.95" y2="183.1" stroke="#000" stroke-width="1"/>
<line x1="192.95" y1="1.3" x2="192.95" y2="5.3" stroke="#000" stroke-width="1"/>
<text x="194.25" y="201.9" font-size="11.6" text-anchor="middle" letter-spacing="0.3">15</text>
<line x1="239.60" y1="187.1" x2="239.60" y2="183.1" stroke="#000" stroke-width="1"/>
<line x1="239.60" y1="1.3" x2="239.60" y2="5.3" stroke="#000" stroke-width="1"/>
<text x="240.90" y="201.9" font-size="11.6" text-anchor="middle" letter-spacing="0.3">20</text>
<line x1="286.25" y1="187.1" x2="286.25" y2="183.1" stroke="#000" stroke-width="1"/>
<line x1="286.25" y1="1.3" x2="286.25" y2="5.3" stroke="#000" stroke-width="1"/>
<text x="287.55" y="201.9" font-size="11.6" text-anchor="middle" letter-spacing="0.3">25</text>
<line x1="332.90" y1="187.1" x2="332.90" y2="183.1" stroke="#000" stroke-width="1"/>
<line x1="332.90" y1="1.3" x2="332.90" y2="5.3" stroke="#000" stroke-width="1"/>
<text x="334.20" y="201.9" font-size="11.6" text-anchor="middle" letter-spacing="0.3">30</text>
<line x1="379.55" y1="187.1" x2="379.55" y2="183.1" stroke="#000" stroke-width="1"/>
<line x1="379.55" y1="1.3" x2="379.55" y2="5.3" stroke="#000" stroke-width="1"/>
<text x="380.85" y="201.9" font-size="11.6" text-anchor="middle" letter-spacing="0.3">35</text>
<line x1="53.0" y1="181.00" x2="57.5" y2="181.00" stroke="#000" stroke-width="1"/>
<line x1="375.05" y1="181.00" x2="379.55" y2="181.00" stroke="#000" stroke-width="1"/>
<text x="47.6" y="183.90" font-size="11.6" text-anchor="end" letter-spacing="0.3">-0.05</text>
<line x1="53.0" y1="146.40" x2="57.5" y2="146.40" stroke="#000" stroke-width="1"/>
<line x1="375.05" y1="146.40" x2="379.55" y2="146.40" stroke="#000" stroke-width="1"/>
<text x="47.6" y="149.30" font-size="11.6" text-anchor="end" letter-spacing="0.3">0.00</text>
<line x1="53.0" y1="111.80" x2="57.5" y2="111.80" stroke="#000" stroke-width="1"/>
<line x1="375.05" y1="111.80" x2="379.55" y2="111.80" stroke="#000" stroke-width="1"/>
<text x="47.6" y="114.70" font-size="11.6" text-anchor="end" letter-spacing="0.3">0.05</text>
<line x1="53.0" y1="77.20" x2="57.5" y2="77.20" stroke="#000" stroke-width="1"/>
<line x1="375.05" y1="77.20" x2="379.55" y2="77.20" stroke="#000" stroke-width="1"/>
<text x="47.6" y="80.10" font-size="11.6" text-anchor="end" letter-spacing="0.3">0.10</text>
<line x1="53.0" y1="42.60" x2="57.5" y2="42.60" stroke="#000" stroke-width="1"/>
<line x1="375.05" y1="42.60" x2="379.55" y2="42.60" stroke="#000" stroke-width="1"/>
<text x="47.6" y="45.50" font-size="11.6" text-anchor="end" letter-spacing="0.3">0.15</text>
<line x1="53.0" y1="8.00" x2="57.5" y2="8.00" stroke="#000" stroke-width="1"/>
<line x1="375.05" y1="8.00" x2="379.55" y2="8.00" stroke="#000" stroke-width="1"/>
<text x="47.6" y="10.90" font-size="11.6" text-anchor="end" letter-spacing="0.3">0.20</text>
<text x="55.4" y="16.2" font-size="7.3" font-style="italic">κ</text><text x="62.6" y="16.2" font-size="7.3" textLength="15" lengthAdjust="spacing">= 40</text>
<text x="90.85" y="36.00" font-size="7.3" text-anchor="middle" letter-spacing="0.35">30</text>
<text x="90.85" y="63.50" font-size="7.3" text-anchor="middle" letter-spacing="0.35">21</text>
<text x="91.05" y="80.80" font-size="7.3" text-anchor="middle" letter-spacing="0.35">15</text>
<text x="90.65" y="97.90" font-size="7.3" text-anchor="middle" letter-spacing="0.35">9</text>
<text x="81.15" y="107.80" font-size="7.3" text-anchor="middle" letter-spacing="0.35">6</text>
<text x="81.15" y="115.90" font-size="7.3" text-anchor="middle" letter-spacing="0.35">3</text>
<text x="81.15" y="124.10" font-size="7.3" text-anchor="middle" letter-spacing="0.35">0</text>
<text x="80.65" y="146.10" font-size="7.3" text-anchor="middle" letter-spacing="0.35">-5</text>
<text x="80.65" y="161.90" font-size="7.3" text-anchor="middle" letter-spacing="0.35">-10</text>
<text x="64.55" y="177.50" font-size="7.3" text-anchor="middle" letter-spacing="0.35">-20</text>
<text x="185" y="223.40" font-size="13.2" textLength="62" lengthAdjust="spacing">−<tspan font-style="italic">q</tspan><tspan font-size="9" dy="-5.2">2</tspan><tspan dy="5.2"> [GeV</tspan><tspan font-size="9" dy="-5.2">2</tspan><tspan dy="5.2">]</tspan></text>
<text transform="translate(13.3,157.3) rotate(-90)" font-size="13" textLength="128.3" lengthAdjust="spacing"><tspan font-style="italic">q</tspan><tspan font-size="8.5" dy="-4.5">2</tspan><tspan dy="4.5" font-style="italic">F</tspan><tspan font-size="9" dy="2.8" font-style="italic">π</tspan><tspan font-size="7" dy="-3.4">0</tspan><tspan font-size="9" dy="3.4" font-style="italic">γ</tspan><tspan font-size="7" dy="-3.4">*</tspan><tspan font-size="9" dy="3.4" font-style="italic">γ</tspan><tspan font-size="7" dy="-3.4">*</tspan><tspan dy="0.6">(</tspan><tspan font-style="italic">q</tspan><tspan font-size="8.5" dy="-4.5">2</tspan><tspan dy="4.5">, </tspan><tspan font-style="italic">q</tspan><tspan font-size="8.5" dy="-4.5">2</tspan><tspan dy="4.5">) [GeV]</tspan></text>
<g clip-path="url(#cb)">
<line x1="99.65" y1="249.7" x2="99.65" y2="436.1" stroke="#1a1a1a" stroke-width="0.95" stroke-dasharray="1.7 1.65"/>
<line x1="146.30" y1="249.7" x2="146.30" y2="436.1" stroke="#1a1a1a" stroke-width="0.95" stroke-dasharray="1.7 1.65"/>
<line x1="192.95" y1="249.7" x2="192.95" y2="436.1" stroke="#1a1a1a" stroke-width="0.95" stroke-dasharray="1.7 1.65"/>
<line x1="239.60" y1="249.7" x2="239.60" y2="436.1" stroke="#1a1a1a" stroke-width="0.95" stroke-dasharray="1.7 1.65"/>
<line x1="286.25" y1="249.7" x2="286.25" y2="436.1" stroke="#1a1a1a" stroke-width="0.95" stroke-dasharray="1.7 1.65"/>
<line x1="332.90" y1="249.7" x2="332.90" y2="436.1" stroke="#1a1a1a" stroke-width="0.95" stroke-dasharray="1.7 1.65"/>
<line x1="53.0" y1="405.03" x2="379.55" y2="405.03" stroke="#1a1a1a" stroke-width="0.95" stroke-dasharray="1.7 1.65"/>
<line x1="53.0" y1="373.96" x2="379.55" y2="373.96" stroke="#1a1a1a" stroke-width="0.95" stroke-dasharray="1.7 1.65"/>
<line x1="53.0" y1="342.89" x2="379.55" y2="342.89" stroke="#1a1a1a" stroke-width="0.95" stroke-dasharray="1.7 1.65"/>
<line x1="53.0" y1="311.82" x2="379.55" y2="311.82" stroke="#1a1a1a" stroke-width="0.95" stroke-dasharray="1.7 1.65"/>
<line x1="53.0" y1="280.75" x2="379.55" y2="280.75" stroke="#1a1a1a" stroke-width="0.95" stroke-dasharray="1.7 1.65"/>
<path d="M53.00,436.10 L53.23,431.81 L53.47,427.83 L53.70,424.14 L53.93,420.70 L54.17,417.48 L54.40,414.48 L54.63,411.66 L54.87,409.01 L55.10,406.51 L55.33,404.16 L55.57,401.93 L55.80,399.83 L56.03,397.83 L56.27,395.94 L56.50,394.14 L56.73,392.43 L56.97,390.80 L57.20,389.24 L57.43,387.76 L57.66,386.34 L57.90,384.98 L58.13,383.68 L58.36,382.43 L58.60,381.24 L58.83,380.09 L59.06,378.99 L59.30,377.92 L59.53,376.90 L59.76,375.92 L60.00,374.97 L60.23,374.06 L60.46,373.17 L60.70,372.32 L60.93,371.50 L61.16,370.70 L61.40,369.93 L61.63,369.18 L61.86,368.46 L62.10,367.76 L62.33,367.08 L63.26,364.57 L64.20,362.32 L65.13,360.31 L66.06,358.50 L67.00,356.85 L67.93,355.35 L68.86,353.98 L69.79,352.73 L70.73,351.57 L71.66,350.50 L72.59,349.50 L73.53,348.58 L74.46,347.72 L75.39,346.91 L76.33,346.16 L77.26,345.45 L78.19,344.78 L79.12,344.16 L80.06,343.56 L80.99,343.00 L81.92,342.47 L82.86,341.97 L83.79,341.49 L84.72,341.04 L85.66,340.61 L86.59,340.19 L87.52,339.80 L88.45,339.42 L89.39,339.06 L90.32,338.72 L91.25,338.39 L92.19,338.07 L93.12,337.76 L94.05,337.47 L94.98,337.19 L95.92,336.92 L96.85,336.66 L97.78,336.40 L98.72,336.16 L99.65,335.92 L104.31,334.86 L108.98,333.95 L113.65,333.17 L118.31,332.48 L122.97,331.87 L127.64,331.33 L132.31,330.84 L136.97,330.40 L141.63,330.00 L146.30,329.64 L150.97,329.30 L155.63,328.99 L160.30,328.70 L164.96,328.43 L169.62,328.18 L174.29,327.95 L178.95,327.73 L183.62,327.52 L188.28,327.33 L192.95,327.14 L197.62,326.96 L202.28,326.80 L206.94,326.64 L211.61,326.48 L216.28,326.34 L220.94,326.20 L225.60,326.06 L230.27,325.93 L234.94,325.81 L239.60,325.69 L244.27,325.57 L248.93,325.46 L253.59,325.35 L258.26,325.25 L262.93,325.15 L267.59,325.05 L272.25,324.95 L276.92,324.86 L281.59,324.77 L286.25,324.68 L290.91,324.59 L295.58,324.51 L300.25,324.42 L304.91,324.34 L309.57,324.27 L314.24,324.19 L318.91,324.11 L323.57,324.04 L328.24,323.97 L332.90,323.90 L337.56,323.83 L342.23,323.76 L346.89,323.69 L351.56,323.62 L356.23,323.56 L360.89,323.49 L365.56,323.43 L370.22,323.37 L374.88,323.31 L379.55,323.25" fill="none" stroke="#000" stroke-width="1.05"/>
<path d="M53.00,436.10 L53.23,432.01 L53.47,428.23 L53.70,424.72 L53.93,421.47 L54.17,418.43 L54.40,415.59 L54.63,412.94 L54.87,410.45 L55.10,408.10 L55.33,405.90 L55.57,403.82 L55.80,401.85 L56.03,399.99 L56.27,398.22 L56.50,396.54 L56.73,394.95 L56.97,393.44 L57.20,391.99 L57.43,390.61 L57.66,389.30 L57.90,388.04 L58.13,386.84 L58.36,385.69 L58.60,384.58 L58.83,383.52 L59.06,382.50 L59.30,381.52 L59.53,380.58 L59.76,379.68 L60.00,378.80 L60.23,377.96 L60.46,377.15 L60.70,376.37 L60.93,375.61 L61.16,374.88 L61.40,374.17 L61.63,373.49 L61.86,372.83 L62.10,372.19 L62.33,371.57 L63.26,369.26 L64.20,367.22 L65.13,365.38 L66.06,363.73 L67.00,362.24 L67.93,360.88 L68.86,359.64 L69.79,358.50 L70.73,357.45 L71.66,356.48 L72.59,355.59 L73.53,354.76 L74.46,353.98 L75.39,353.26 L76.33,352.58 L77.26,351.95 L78.19,351.35 L79.12,350.79 L80.06,350.26 L80.99,349.76 L81.92,349.28 L82.86,348.84 L83.79,348.41 L84.72,348.01 L85.66,347.62 L86.59,347.26 L87.52,346.91 L88.45,346.57 L89.39,346.25 L90.32,345.95 L91.25,345.66 L92.19,345.38 L93.12,345.11 L94.05,344.85 L94.98,344.60 L95.92,344.37 L96.85,344.14 L97.78,343.92 L98.72,343.70 L99.65,343.50 L104.31,342.57 L108.98,341.79 L113.65,341.12 L118.31,340.53 L122.97,340.02 L127.64,339.56 L132.31,339.16 L136.97,338.80 L141.63,338.47 L146.30,338.18 L150.97,337.91 L155.63,337.66 L160.30,337.44 L164.96,337.23 L169.62,337.04 L174.29,336.86 L178.95,336.69 L183.62,336.54 L188.28,336.40 L192.95,336.26 L197.62,336.14 L202.28,336.02 L206.94,335.91 L211.61,335.80 L216.28,335.70 L220.94,335.61 L225.60,335.52 L230.27,335.43 L234.94,335.35 L239.60,335.28 L244.27,335.20 L248.93,335.13 L253.59,335.07 L258.26,335.00 L262.93,334.94 L267.59,334.89 L272.25,334.83 L276.92,334.78 L281.59,334.73 L286.25,334.68 L290.91,334.63 L295.58,334.58 L300.25,334.54 L304.91,334.50 L309.57,334.46 L314.24,334.42 L318.91,334.38 L323.57,334.34 L328.24,334.31 L332.90,334.27 L337.56,334.24 L342.23,334.21 L346.89,334.18 L351.56,334.15 L356.23,334.12 L360.89,334.09 L365.56,334.06 L370.22,334.03 L374.88,334.01 L379.55,333.98" fill="none" stroke="#000" stroke-width="1.0" stroke-dasharray="2.2 1.2"/>
<path d="M53.00,436.10 L53.23,431.98 L53.47,428.11 L53.70,424.48 L53.93,421.04 L54.17,417.79 L54.40,414.70 L54.63,411.76 L54.87,408.95 L55.10,406.26 L55.33,403.69 L55.57,401.21 L55.80,398.83 L56.03,396.54 L56.27,394.32 L56.50,392.18 L56.73,390.10 L56.97,388.09 L57.20,386.13 L57.43,384.23 L57.66,382.38 L57.90,380.58 L58.13,378.82 L58.36,377.10 L58.60,375.41 L58.83,373.77 L59.06,372.16 L59.30,370.58 L59.53,369.03 L59.76,367.51 L60.00,366.01 L60.23,364.54 L60.46,363.10 L60.70,361.68 L60.93,360.28 L61.16,358.90 L61.40,357.54 L61.63,356.19 L61.86,354.87 L62.10,353.56 L62.33,352.27 L63.26,347.25 L64.20,342.43 L65.13,337.78 L66.06,333.28 L67.00,328.91 L67.93,324.64 L68.86,320.47 L69.79,316.38 L70.73,312.36 L71.66,308.40 L72.59,304.50 L73.53,300.66 L74.46,296.86 L75.39,293.10 L76.33,289.37 L77.26,285.68 L78.19,282.02 L79.12,278.39 L80.06,274.78 L80.99,271.20 L81.92,267.64 L82.86,264.10 L83.79,260.58 L84.72,257.07 L85.66,253.58 L86.59,250.10 L86.88,249.00" fill="none" stroke="#000" stroke-width="1.0" stroke-dasharray="3.8 0.9 0.8 0.9"/>
<line x1="67.80" y1="355.50" x2="67.80" y2="364.50" stroke="#2a2a2a" stroke-width="1.1"/>
<line x1="66.00" y1="355.50" x2="69.60" y2="355.50" stroke="#2a2a2a" stroke-width="1"/>
<line x1="66.00" y1="364.50" x2="69.60" y2="364.50" stroke="#2a2a2a" stroke-width="1"/>
<line x1="70.20" y1="355.00" x2="70.20" y2="368.00" stroke="#2a2a2a" stroke-width="1.1"/>
<line x1="68.40" y1="355.00" x2="72.00" y2="355.00" stroke="#2a2a2a" stroke-width="1"/>
<line x1="68.40" y1="368.00" x2="72.00" y2="368.00" stroke="#2a2a2a" stroke-width="1"/>
<line x1="72.30" y1="344.70" x2="72.30" y2="354.70" stroke="#2a2a2a" stroke-width="1.1"/>
<line x1="70.50" y1="344.70" x2="74.10" y2="344.70" stroke="#2a2a2a" stroke-width="1"/>
<line x1="70.50" y1="354.70" x2="74.10" y2="354.70" stroke="#2a2a2a" stroke-width="1"/>
<line x1="74.80" y1="344.50" x2="74.80" y2="362.50" stroke="#2a2a2a" stroke-width="1.1"/>
<line x1="73.00" y1="344.50" x2="76.60" y2="344.50" stroke="#2a2a2a" stroke-width="1"/>
<line x1="73.00" y1="362.50" x2="76.60" y2="362.50" stroke="#2a2a2a" stroke-width="1"/>
<line x1="78.10" y1="334.80" x2="78.10" y2="349.80" stroke="#2a2a2a" stroke-width="1.1"/>
<line x1="76.30" y1="334.80" x2="79.90" y2="334.80" stroke="#2a2a2a" stroke-width="1"/>
<line x1="76.30" y1="349.80" x2="79.90" y2="349.80" stroke="#2a2a2a" stroke-width="1"/>
<line x1="80.60" y1="341.80" x2="80.60" y2="358.40" stroke="#2a2a2a" stroke-width="1.1"/>
<line x1="78.80" y1="341.80" x2="82.40" y2="341.80" stroke="#2a2a2a" stroke-width="1"/>
<line x1="78.80" y1="358.40" x2="82.40" y2="358.40" stroke="#2a2a2a" stroke-width="1"/>
<line x1="83.60" y1="337.70" x2="83.60" y2="353.30" stroke="#2a2a2a" stroke-width="1.1"/>
<line x1="81.80" y1="337.70" x2="85.40" y2="337.70" stroke="#2a2a2a" stroke-width="1"/>
<line x1="81.80" y1="353.30" x2="85.40" y2="353.30" stroke="#2a2a2a" stroke-width="1"/>
<line x1="87.80" y1="344.70" x2="87.80" y2="362.70" stroke="#2a2a2a" stroke-width="1.1"/>
<line x1="86.00" y1="344.70" x2="89.60" y2="344.70" stroke="#2a2a2a" stroke-width="1"/>
<line x1="86.00" y1="362.70" x2="89.60" y2="362.70" stroke="#2a2a2a" stroke-width="1"/>
<line x1="92.70" y1="343.70" x2="92.70" y2="361.70" stroke="#2a2a2a" stroke-width="1.1"/>
<line x1="90.90" y1="343.70" x2="94.50" y2="343.70" stroke="#2a2a2a" stroke-width="1"/>
<line x1="90.90" y1="361.70" x2="94.50" y2="361.70" stroke="#2a2a2a" stroke-width="1"/>
<line x1="96.90" y1="329.80" x2="96.90" y2="351.80" stroke="#2a2a2a" stroke-width="1.1"/>
<line x1="95.10" y1="329.80" x2="98.70" y2="329.80" stroke="#2a2a2a" stroke-width="1"/>
<line x1="95.10" y1="351.80" x2="98.70" y2="351.80" stroke="#2a2a2a" stroke-width="1"/>
<line x1="99.40" y1="337.80" x2="99.40" y2="357.80" stroke="#2a2a2a" stroke-width="1.1"/>
<line x1="97.60" y1="337.80" x2="101.20" y2="337.80" stroke="#2a2a2a" stroke-width="1"/>
<line x1="97.60" y1="357.80" x2="101.20" y2="357.80" stroke="#2a2a2a" stroke-width="1"/>
<line x1="106.60" y1="324.50" x2="106.60" y2="350.50" stroke="#2a2a2a" stroke-width="1.1"/>
<line x1="104.80" y1="324.50" x2="108.40" y2="324.50" stroke="#2a2a2a" stroke-width="1"/>
<line x1="104.80" y1="350.50" x2="108.40" y2="350.50" stroke="#2a2a2a" stroke-width="1"/>
<line x1="113.40" y1="331.90" x2="113.40" y2="355.90" stroke="#2a2a2a" stroke-width="1.1"/>
<line x1="111.60" y1="331.90" x2="115.20" y2="331.90" stroke="#2a2a2a" stroke-width="1"/>
<line x1="111.60" y1="355.90" x2="115.20" y2="355.90" stroke="#2a2a2a" stroke-width="1"/>
<line x1="126.60" y1="316.50" x2="126.60" y2="347.90" stroke="#2a2a2a" stroke-width="1.1"/>
<line x1="124.80" y1="316.50" x2="128.40" y2="316.50" stroke="#2a2a2a" stroke-width="1"/>
<line x1="124.80" y1="347.90" x2="128.40" y2="347.90" stroke="#2a2a2a" stroke-width="1"/>
<line x1="101.40" y1="331.80" x2="101.40" y2="339.80" stroke="#2a2a2a" stroke-width="1.1"/>
<line x1="99.60" y1="331.80" x2="103.20" y2="331.80" stroke="#2a2a2a" stroke-width="1"/>
<line x1="99.60" y1="339.80" x2="103.20" y2="339.80" stroke="#2a2a2a" stroke-width="1"/>
<line x1="113.00" y1="330.70" x2="113.00" y2="338.70" stroke="#2a2a2a" stroke-width="1.1"/>
<line x1="111.20" y1="330.70" x2="114.80" y2="330.70" stroke="#2a2a2a" stroke-width="1"/>
<line x1="111.20" y1="338.70" x2="114.80" y2="338.70" stroke="#2a2a2a" stroke-width="1"/>
<line x1="122.40" y1="332.00" x2="122.40" y2="342.00" stroke="#2a2a2a" stroke-width="1.1"/>
<line x1="120.60" y1="332.00" x2="124.20" y2="332.00" stroke="#2a2a2a" stroke-width="1"/>
<line x1="120.60" y1="342.00" x2="124.20" y2="342.00" stroke="#2a2a2a" stroke-width="1"/>
<line x1="132.40" y1="327.60" x2="132.40" y2="335.60" stroke="#2a2a2a" stroke-width="1.1"/>
<line x1="130.60" y1="327.60" x2="134.20" y2="327.60" stroke="#2a2a2a" stroke-width="1"/>
<line x1="130.60" y1="335.60" x2="134.20" y2="335.60" stroke="#2a2a2a" stroke-width="1"/>
<line x1="141.50" y1="317.80" x2="141.50" y2="324.00" stroke="#2a2a2a" stroke-width="1.1"/>
<line x1="139.70" y1="317.80" x2="143.30" y2="317.80" stroke="#2a2a2a" stroke-width="1"/>
<line x1="139.70" y1="324.00" x2="143.30" y2="324.00" stroke="#2a2a2a" stroke-width="1"/>
<line x1="150.50" y1="315.20" x2="150.50" y2="323.60" stroke="#2a2a2a" stroke-width="1.1"/>
<line x1="148.70" y1="315.20" x2="152.30" y2="315.20" stroke="#2a2a2a" stroke-width="1"/>
<line x1="148.70" y1="323.60" x2="152.30" y2="323.60" stroke="#2a2a2a" stroke-width="1"/>
<line x1="160.10" y1="311.30" x2="160.10" y2="321.30" stroke="#2a2a2a" stroke-width="1.1"/>
<line x1="158.30" y1="311.30" x2="161.90" y2="311.30" stroke="#2a2a2a" stroke-width="1"/>
<line x1="158.30" y1="321.30" x2="161.90" y2="321.30" stroke="#2a2a2a" stroke-width="1"/>
<line x1="171.60" y1="320.40" x2="171.60" y2="333.40" stroke="#2a2a2a" stroke-width="1.1"/>
<line x1="169.80" y1="320.40" x2="173.40" y2="320.40" stroke="#2a2a2a" stroke-width="1"/>
<line x1="169.80" y1="333.40" x2="173.40" y2="333.40" stroke="#2a2a2a" stroke-width="1"/>
<line x1="185.30" y1="305.10" x2="185.30" y2="319.70" stroke="#2a2a2a" stroke-width="1.1"/>
<line x1="183.50" y1="305.10" x2="187.10" y2="305.10" stroke="#2a2a2a" stroke-width="1"/>
<line x1="183.50" y1="319.70" x2="187.10" y2="319.70" stroke="#2a2a2a" stroke-width="1"/>
<line x1="201.90" y1="299.20" x2="201.90" y2="313.60" stroke="#2a2a2a" stroke-width="1.1"/>
<line x1="200.10" y1="299.20" x2="203.70" y2="299.20" stroke="#2a2a2a" stroke-width="1"/>
<line x1="200.10" y1="313.60" x2="203.70" y2="313.60" stroke="#2a2a2a" stroke-width="1"/>
<line x1="224.80" y1="290.90" x2="224.80" y2="306.90" stroke="#2a2a2a" stroke-width="1.1"/>
<line x1="223.00" y1="290.90" x2="226.60" y2="290.90" stroke="#2a2a2a" stroke-width="1"/>
<line x1="223.00" y1="306.90" x2="226.60" y2="306.90" stroke="#2a2a2a" stroke-width="1"/>
<line x1="260.80" y1="272.40" x2="260.80" y2="294.60" stroke="#2a2a2a" stroke-width="1.1"/>
<line x1="259.00" y1="272.40" x2="262.60" y2="272.40" stroke="#2a2a2a" stroke-width="1"/>
<line x1="259.00" y1="294.60" x2="262.60" y2="294.60" stroke="#2a2a2a" stroke-width="1"/>
<line x1="307.60" y1="298.50" x2="307.60" y2="348.10" stroke="#2a2a2a" stroke-width="1.1"/>
<line x1="305.80" y1="298.50" x2="309.40" y2="298.50" stroke="#2a2a2a" stroke-width="1"/>
<line x1="305.80" y1="348.10" x2="309.40" y2="348.10" stroke="#2a2a2a" stroke-width="1"/>
<line x1="373.40" y1="249.70" x2="373.40" y2="286.70" stroke="#2a2a2a" stroke-width="1.1"/>
<line x1="371.60" y1="286.70" x2="375.20" y2="286.70" stroke="#2a2a2a" stroke-width="1"/>
<line x1="94.40" y1="346.70" x2="94.40" y2="364.70" stroke="#2a2a2a" stroke-width="1.1"/>
<line x1="92.60" y1="346.70" x2="96.20" y2="346.70" stroke="#2a2a2a" stroke-width="1"/>
<line x1="92.60" y1="364.70" x2="96.20" y2="364.70" stroke="#2a2a2a" stroke-width="1"/>
<line x1="103.30" y1="338.80" x2="103.30" y2="358.80" stroke="#2a2a2a" stroke-width="1.1"/>
<line x1="101.50" y1="338.80" x2="105.10" y2="338.80" stroke="#2a2a2a" stroke-width="1"/>
<line x1="101.50" y1="358.80" x2="105.10" y2="358.80" stroke="#2a2a2a" stroke-width="1"/>
<line x1="113.80" y1="329.60" x2="113.80" y2="338.60" stroke="#2a2a2a" stroke-width="1.1"/>
<line x1="112.00" y1="329.60" x2="115.60" y2="329.60" stroke="#2a2a2a" stroke-width="1"/>
<line x1="112.00" y1="338.60" x2="115.60" y2="338.60" stroke="#2a2a2a" stroke-width="1"/>
<line x1="132.40" y1="322.00" x2="132.40" y2="332.00" stroke="#2a2a2a" stroke-width="1.1"/>
<line x1="130.60" y1="322.00" x2="134.20" y2="322.00" stroke="#2a2a2a" stroke-width="1"/>
<line x1="130.60" y1="332.00" x2="134.20" y2="332.00" stroke="#2a2a2a" stroke-width="1"/>
<line x1="141.50" y1="325.40" x2="141.50" y2="335.60" stroke="#2a2a2a" stroke-width="1.1"/>
<line x1="139.70" y1="325.40" x2="143.30" y2="325.40" stroke="#2a2a2a" stroke-width="1"/>
<line x1="139.70" y1="335.60" x2="143.30" y2="335.60" stroke="#2a2a2a" stroke-width="1"/>
<line x1="150.50" y1="327.50" x2="150.50" y2="339.10" stroke="#2a2a2a" stroke-width="1.1"/>
<line x1="148.70" y1="327.50" x2="152.30" y2="327.50" stroke="#2a2a2a" stroke-width="1"/>
<line x1="148.70" y1="339.10" x2="152.30" y2="339.10" stroke="#2a2a2a" stroke-width="1"/>
<line x1="160.10" y1="320.90" x2="160.10" y2="334.90" stroke="#2a2a2a" stroke-width="1.1"/>
<line x1="158.30" y1="320.90" x2="161.90" y2="320.90" stroke="#2a2a2a" stroke-width="1"/>
<line x1="158.30" y1="334.90" x2="161.90" y2="334.90" stroke="#2a2a2a" stroke-width="1"/>
<line x1="173.70" y1="324.10" x2="173.70" y2="339.10" stroke="#2a2a2a" stroke-width="1.1"/>
<line x1="171.90" y1="324.10" x2="175.50" y2="324.10" stroke="#2a2a2a" stroke-width="1"/>
<line x1="171.90" y1="339.10" x2="175.50" y2="339.10" stroke="#2a2a2a" stroke-width="1"/>
<line x1="192.60" y1="313.10" x2="192.60" y2="335.50" stroke="#2a2a2a" stroke-width="1.1"/>
<line x1="190.80" y1="313.10" x2="194.40" y2="313.10" stroke="#2a2a2a" stroke-width="1"/>
<line x1="190.80" y1="335.50" x2="194.40" y2="335.50" stroke="#2a2a2a" stroke-width="1"/>
<line x1="211.20" y1="309.30" x2="211.20" y2="335.30" stroke="#2a2a2a" stroke-width="1.1"/>
<line x1="209.40" y1="309.30" x2="213.00" y2="309.30" stroke="#2a2a2a" stroke-width="1"/>
<line x1="209.40" y1="335.30" x2="213.00" y2="335.30" stroke="#2a2a2a" stroke-width="1"/>
<line x1="229.80" y1="298.20" x2="229.80" y2="326.60" stroke="#2a2a2a" stroke-width="1.1"/>
<line x1="228.00" y1="298.20" x2="231.60" y2="298.20" stroke="#2a2a2a" stroke-width="1"/>
<line x1="228.00" y1="326.60" x2="231.60" y2="326.60" stroke="#2a2a2a" stroke-width="1"/>
<line x1="260.80" y1="301.20" x2="260.80" y2="327.60" stroke="#2a2a2a" stroke-width="1.1"/>
<line x1="259.00" y1="301.20" x2="262.60" y2="301.20" stroke="#2a2a2a" stroke-width="1"/>
<line x1="259.00" y1="327.60" x2="262.60" y2="327.60" stroke="#2a2a2a" stroke-width="1"/>
<line x1="308.30" y1="268.60" x2="308.30" y2="309.40" stroke="#2a2a2a" stroke-width="1.1"/>
<line x1="306.50" y1="268.60" x2="310.10" y2="268.60" stroke="#2a2a2a" stroke-width="1"/>
<line x1="306.50" y1="309.40" x2="310.10" y2="309.40" stroke="#2a2a2a" stroke-width="1"/>
<line x1="374.60" y1="291.10" x2="374.60" y2="346.70" stroke="#2a2a2a" stroke-width="1.1"/>
<line x1="372.80" y1="291.10" x2="376.40" y2="291.10" stroke="#2a2a2a" stroke-width="1"/>
<line x1="372.80" y1="346.70" x2="376.40" y2="346.70" stroke="#2a2a2a" stroke-width="1"/>
<circle cx="67.80" cy="360.00" r="1.45" fill="#777" stroke="#000" stroke-width="1.0"/>
<circle cx="70.20" cy="361.50" r="1.45" fill="#777" stroke="#000" stroke-width="1.0"/>
<circle cx="72.30" cy="349.70" r="1.45" fill="#777" stroke="#000" stroke-width="1.0"/>
<circle cx="74.80" cy="353.50" r="1.45" fill="#777" stroke="#000" stroke-width="1.0"/>
<circle cx="78.10" cy="342.30" r="1.45" fill="#777" stroke="#000" stroke-width="1.0"/>
<circle cx="80.60" cy="350.10" r="1.45" fill="#777" stroke="#000" stroke-width="1.0"/>
<circle cx="83.60" cy="345.50" r="1.45" fill="#777" stroke="#000" stroke-width="1.0"/>
<circle cx="87.80" cy="353.70" r="1.45" fill="#777" stroke="#000" stroke-width="1.0"/>
<circle cx="92.70" cy="352.70" r="1.45" fill="#777" stroke="#000" stroke-width="1.0"/>
<circle cx="96.90" cy="340.80" r="1.45" fill="#777" stroke="#000" stroke-width="1.0"/>
<circle cx="99.40" cy="347.80" r="1.45" fill="#777" stroke="#000" stroke-width="1.0"/>
<circle cx="106.60" cy="337.50" r="1.45" fill="#777" stroke="#000" stroke-width="1.0"/>
<circle cx="113.40" cy="343.90" r="1.45" fill="#777" stroke="#000" stroke-width="1.0"/>
<circle cx="126.60" cy="332.20" r="1.45" fill="#777" stroke="#000" stroke-width="1.0"/>
<rect x="99.95" y="334.35" width="2.9" height="2.9" fill="#777" stroke="#000" stroke-width="1.0"/>
<rect x="111.55" y="333.25" width="2.9" height="2.9" fill="#777" stroke="#000" stroke-width="1.0"/>
<rect x="120.95" y="335.55" width="2.9" height="2.9" fill="#777" stroke="#000" stroke-width="1.0"/>
<rect x="130.95" y="330.15" width="2.9" height="2.9" fill="#777" stroke="#000" stroke-width="1.0"/>
<rect x="140.05" y="319.45" width="2.9" height="2.9" fill="#777" stroke="#000" stroke-width="1.0"/>
<rect x="149.05" y="317.95" width="2.9" height="2.9" fill="#777" stroke="#000" stroke-width="1.0"/>
<rect x="158.65" y="314.85" width="2.9" height="2.9" fill="#777" stroke="#000" stroke-width="1.0"/>
<rect x="170.15" y="325.45" width="2.9" height="2.9" fill="#777" stroke="#000" stroke-width="1.0"/>
<rect x="183.85" y="310.95" width="2.9" height="2.9" fill="#777" stroke="#000" stroke-width="1.0"/>
<rect x="200.45" y="304.95" width="2.9" height="2.9" fill="#777" stroke="#000" stroke-width="1.0"/>
<rect x="223.35" y="297.45" width="2.9" height="2.9" fill="#777" stroke="#000" stroke-width="1.0"/>
<rect x="259.35" y="282.05" width="2.9" height="2.9" fill="#777" stroke="#000" stroke-width="1.0"/>
<rect x="306.15" y="321.85" width="2.9" height="2.9" fill="#777" stroke="#000" stroke-width="1.0"/>
<rect x="371.95" y="257.25" width="2.9" height="2.9" fill="#777" stroke="#000" stroke-width="1.0"/>
<ellipse cx="94.40" cy="355.70" rx="1.7" ry="1.9" fill="#000"/>
<ellipse cx="103.30" cy="348.80" rx="1.7" ry="1.9" fill="#000"/>
<ellipse cx="113.80" cy="334.10" rx="1.7" ry="1.9" fill="#000"/>
<ellipse cx="132.40" cy="327.00" rx="1.7" ry="1.9" fill="#000"/>
<ellipse cx="141.50" cy="330.50" rx="1.7" ry="1.9" fill="#000"/>
<ellipse cx="150.50" cy="333.30" rx="1.7" ry="1.9" fill="#000"/>
<ellipse cx="160.10" cy="327.90" rx="1.7" ry="1.9" fill="#000"/>
<ellipse cx="173.70" cy="331.60" rx="1.7" ry="1.9" fill="#000"/>
<ellipse cx="192.60" cy="324.30" rx="1.7" ry="1.9" fill="#000"/>
<ellipse cx="211.20" cy="322.30" rx="1.7" ry="1.9" fill="#000"/>
<ellipse cx="229.80" cy="312.40" rx="1.7" ry="1.9" fill="#000"/>
<ellipse cx="260.80" cy="314.40" rx="1.7" ry="1.9" fill="#000"/>
<ellipse cx="308.30" cy="289.00" rx="1.7" ry="1.9" fill="#000"/>
<ellipse cx="374.60" cy="318.90" rx="1.7" ry="1.9" fill="#000"/>
</g>
<rect x="287" y="375" width="82" height="56.5" fill="#fff"/>
<text x="300.20" y="387.20" font-size="9.4" textLength="19.3" lengthAdjust="spacingAndGlyphs">THS</text>
<rect x="326.5" y="381.80" width="32.0" height="4.3" fill="#b3b3b3"/>
<text x="296.90" y="396.17" font-size="9.4" textLength="22.6" lengthAdjust="spacingAndGlyphs">VMD</text>
<line x1="326.5" y1="392.87" x2="358.5" y2="392.87" stroke="#000" stroke-width="1.1" stroke-dasharray="2.6 1"/>
<text x="297.90" y="405.14" font-size="9.4" textLength="21.6" lengthAdjust="spacingAndGlyphs">LMD</text>
<line x1="326.5" y1="401.84" x2="358.5" y2="401.84" stroke="#000" stroke-width="1.1" stroke-dasharray="4.2 0.8 0.8 0.9"/>
<text x="292.40" y="414.11" font-size="9.4" textLength="27.1" lengthAdjust="spacingAndGlyphs">CLEO</text>
<line x1="326.5" y1="411.31" x2="358.5" y2="411.31" stroke="#2a2a2a" stroke-width="1.2"/><path d="M326.5,409.41 L328.3,411.31 L326.5,413.21 Z" fill="#222" stroke="#222" stroke-width="0.6"/><path d="M358.5,409.41 L356.7,411.31 L358.5,413.21 Z" fill="#222" stroke="#222" stroke-width="0.6"/>
<circle cx="342.50" cy="411.31" r="1.45" fill="#777" stroke="#000" stroke-width="1.0"/>
<text x="292.40" y="423.08" font-size="9.4" textLength="27.1" lengthAdjust="spacingAndGlyphs">BaBar</text>
<line x1="326.5" y1="420.28" x2="358.5" y2="420.28" stroke="#2a2a2a" stroke-width="1.2"/><path d="M326.5,418.38 L328.3,420.28 L326.5,422.18 Z" fill="#222" stroke="#222" stroke-width="0.6"/><path d="M358.5,418.38 L356.7,420.28 L358.5,422.18 Z" fill="#222" stroke="#222" stroke-width="0.6"/>
<rect x="341.05" y="418.83" width="2.9" height="2.9" fill="#777" stroke="#000" stroke-width="1.0"/>
<text x="298.70" y="432.05" font-size="9.4" textLength="20.8" lengthAdjust="spacingAndGlyphs">Belle</text>
<line x1="326.5" y1="429.25" x2="358.5" y2="429.25" stroke="#2a2a2a" stroke-width="1.2"/><path d="M326.5,427.35 L328.3,429.25 L326.5,431.15 Z" fill="#222" stroke="#222" stroke-width="0.6"/><path d="M358.5,427.35 L356.7,429.25 L358.5,431.15 Z" fill="#222" stroke="#222" stroke-width="0.6"/>
<ellipse cx="342.50" cy="429.25" rx="1.7" ry="1.9" fill="#000"/>
<rect x="53.0" y="249.7" width="326.55" height="186.40" fill="none" stroke="#000" stroke-width="1.15"/>
<line x1="53.00" y1="436.1" x2="53.00" y2="432.1" stroke="#000" stroke-width="1"/>
<line x1="53.00" y1="249.7" x2="53.00" y2="253.7" stroke="#000" stroke-width="1"/>
<text x="54.30" y="450.90000000000003" font-size="11.6" text-anchor="middle" letter-spacing="0.3">0</text>
<line x1="99.65" y1="436.1" x2="99.65" y2="432.1" stroke="#000" stroke-width="1"/>
<line x1="99.65" y1="249.7" x2="99.65" y2="253.7" stroke="#000" stroke-width="1"/>
<text x="100.95" y="450.90000000000003" font-size="11.6" text-anchor="middle" letter-spacing="0.3">5</text>
<line x1="146.30" y1="436.1" x2="146.30" y2="432.1" stroke="#000" stroke-width="1"/>
<line x1="146.30" y1="249.7" x2="146.30" y2="253.7" stroke="#000" stroke-width="1"/>
<text x="147.60" y="450.90000000000003" font-size="11.6" text-anchor="middle" letter-spacing="0.3">10</text>
<line x1="192.95" y1="436.1" x2="192.95" y2="432.1" stroke="#000" stroke-width="1"/>
<line x1="192.95" y1="249.7" x2="192.95" y2="253.7" stroke="#000" stroke-width="1"/>
<text x="194.25" y="450.90000000000003" font-size="11.6" text-anchor="middle" letter-spacing="0.3">15</text>
<line x1="239.60" y1="436.1" x2="239.60" y2="432.1" stroke="#000" stroke-width="1"/>
<line x1="239.60" y1="249.7" x2="239.60" y2="253.7" stroke="#000" stroke-width="1"/>
<text x="240.90" y="450.90000000000003" font-size="11.6" text-anchor="middle" letter-spacing="0.3">20</text>
<line x1="286.25" y1="436.1" x2="286.25" y2="432.1" stroke="#000" stroke-width="1"/>
<line x1="286.25" y1="249.7" x2="286.25" y2="253.7" stroke="#000" stroke-width="1"/>
<text x="287.55" y="450.90000000000003" font-size="11.6" text-anchor="middle" letter-spacing="0.3">25</text>
<line x1="332.90" y1="436.1" x2="332.90" y2="432.1" stroke="#000" stroke-width="1"/>
<line x1="332.90" y1="249.7" x2="332.90" y2="253.7" stroke="#000" stroke-width="1"/>
<text x="334.20" y="450.90000000000003" font-size="11.6" text-anchor="middle" letter-spacing="0.3">30</text>
<line x1="379.55" y1="436.1" x2="379.55" y2="432.1" stroke="#000" stroke-width="1"/>
<line x1="379.55" y1="249.7" x2="379.55" y2="253.7" stroke="#000" stroke-width="1"/>
<text x="380.85" y="450.90000000000003" font-size="11.6" text-anchor="middle" letter-spacing="0.3">35</text>
<line x1="53.0" y1="436.10" x2="57.5" y2="436.10" stroke="#000" stroke-width="1"/>
<line x1="375.05" y1="436.10" x2="379.55" y2="436.10" stroke="#000" stroke-width="1"/>
<text x="47.6" y="439.00" font-size="11.6" text-anchor="end" letter-spacing="0.3">0.00</text>
<line x1="53.0" y1="405.03" x2="57.5" y2="405.03" stroke="#000" stroke-width="1"/>
<line x1="375.05" y1="405.03" x2="379.55" y2="405.03" stroke="#000" stroke-width="1"/>
<text x="47.6" y="407.93" font-size="11.6" text-anchor="end" letter-spacing="0.3">0.05</text>
<line x1="53.0" y1="373.96" x2="57.5" y2="373.96" stroke="#000" stroke-width="1"/>
<line x1="375.05" y1="373.96" x2="379.55" y2="373.96" stroke="#000" stroke-width="1"/>
<text x="47.6" y="376.86" font-size="11.6" text-anchor="end" letter-spacing="0.3">0.10</text>
<line x1="53.0" y1="342.89" x2="57.5" y2="342.89" stroke="#000" stroke-width="1"/>
<line x1="375.05" y1="342.89" x2="379.55" y2="342.89" stroke="#000" stroke-width="1"/>
<text x="47.6" y="345.79" font-size="11.6" text-anchor="end" letter-spacing="0.3">0.15</text>
<line x1="53.0" y1="311.82" x2="57.5" y2="311.82" stroke="#000" stroke-width="1"/>
<line x1="375.05" y1="311.82" x2="379.55" y2="311.82" stroke="#000" stroke-width="1"/>
<text x="47.6" y="314.72" font-size="11.6" text-anchor="end" letter-spacing="0.3">0.20</text>
<line x1="53.0" y1="280.75" x2="57.5" y2="280.75" stroke="#000" stroke-width="1"/>
<line x1="375.05" y1="280.75" x2="379.55" y2="280.75" stroke="#000" stroke-width="1"/>
<text x="47.6" y="283.65" font-size="11.6" text-anchor="end" letter-spacing="0.3">0.25</text>
<line x1="53.0" y1="249.68" x2="57.5" y2="249.68" stroke="#000" stroke-width="1"/>
<line x1="375.05" y1="249.68" x2="379.55" y2="249.68" stroke="#000" stroke-width="1"/>
<text x="47.6" y="252.58" font-size="11.6" text-anchor="end" letter-spacing="0.3">0.30</text>
<text x="185" y="472.30" font-size="13.2" textLength="62" lengthAdjust="spacing">−<tspan font-style="italic">q</tspan><tspan font-size="9" dy="-5.2">2</tspan><tspan dy="5.2"> [GeV</tspan><tspan font-size="9" dy="-5.2">2</tspan><tspan dy="5.2">]</tspan></text>
<text transform="translate(13.3,400.5) rotate(-90)" font-size="13" textLength="121.5" lengthAdjust="spacing"><tspan font-style="italic">q</tspan><tspan font-size="8.5" dy="-4.5">2</tspan><tspan dy="4.5" font-style="italic">F</tspan><tspan font-size="9" dy="2.8" font-style="italic">π</tspan><tspan font-size="7" dy="-3.4">0</tspan><tspan font-size="9" dy="3.4" font-style="italic">γ</tspan><tspan font-size="7" dy="-3.4">*</tspan><tspan font-size="9" dy="3.4" font-style="italic">γ</tspan><tspan font-size="7" dy="-3.4">*</tspan><tspan dy="0.6">(</tspan><tspan>0, </tspan><tspan font-style="italic">q</tspan><tspan font-size="8.5" dy="-4.5">2</tspan><tspan dy="4.5">) [GeV]</tspan></text>
</svg></body></html>
